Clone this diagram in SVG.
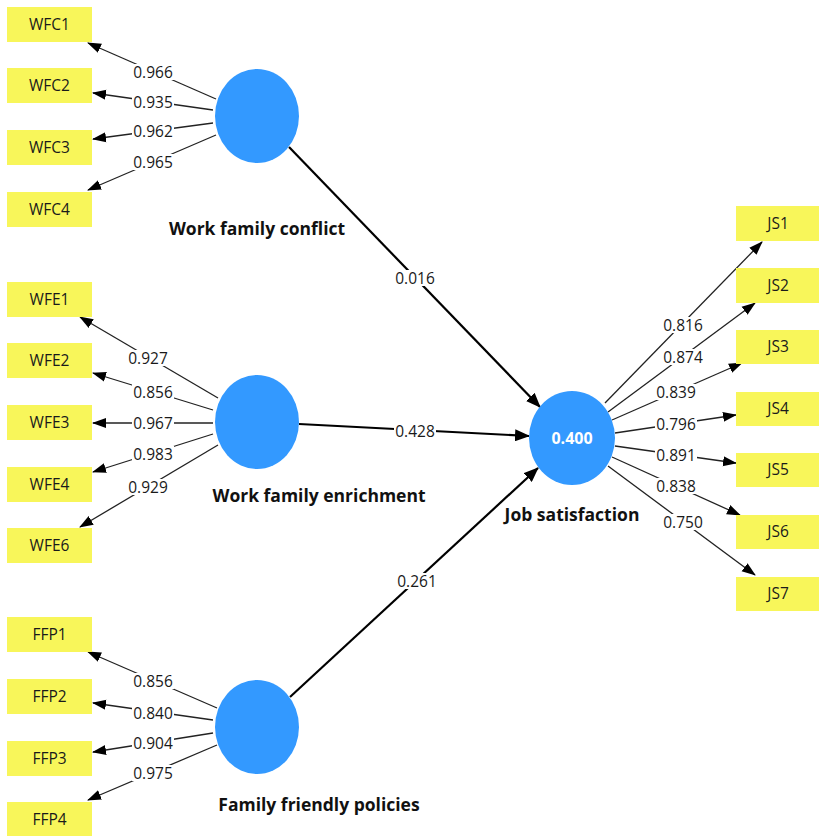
<svg xmlns="http://www.w3.org/2000/svg" width="819" height="836" viewBox="0 0 819 836">
<defs>
<style>
.ind rect{fill:#F8F65A}
.t{font-family:"Open Sans","Liberation Sans",sans-serif;font-size:15.5px;fill:#1a1a1a;text-anchor:middle}
.lv ellipse{fill:#3399FF}
.name{font-family:"Open Sans","Liberation Sans",sans-serif;font-size:17.5px;font-weight:bold;fill:#111;text-anchor:middle}
.r2{font-family:"Open Sans","Liberation Sans",sans-serif;font-size:16px;font-weight:bold;fill:#fff;text-anchor:middle}
.m{stroke:#222;stroke-width:1.3;fill:none;marker-end:url(#ah)}
.s{stroke:#000;stroke-width:2.2;fill:none;marker-end:url(#ahs)}
.bg{fill:#fff}
</style>
<marker id="ah" markerUnits="userSpaceOnUse" markerWidth="14" markerHeight="11" refX="13" refY="5" orient="auto" viewBox="0 0 14 10"><path d="M0,0 L14,5 L0,10 z" fill="#000"/></marker>
<marker id="ahs" markerUnits="userSpaceOnUse" markerWidth="15" markerHeight="12" refX="14" refY="6" orient="auto" viewBox="0 0 15 12"><path d="M0,0 L15,6 L0,12 z" fill="#000"/></marker>
</defs>
<rect width="819" height="836" fill="#fff"/>
<g id="connectors">
<line class="m" x1="216" y1="99" x2="88" y2="43"/>
<line class="m" x1="213" y1="110" x2="93" y2="93"/>
<line class="m" x1="213" y1="123" x2="93" y2="139"/>
<line class="m" x1="216" y1="135" x2="88" y2="190"/>
<line class="m" x1="218" y1="398" x2="80" y2="317"/>
<line class="m" x1="213" y1="410" x2="93" y2="373"/>
<line class="m" x1="213" y1="423" x2="93" y2="423"/>
<line class="m" x1="213" y1="434" x2="93" y2="472"/>
<line class="m" x1="218" y1="445" x2="80" y2="527"/>
<line class="m" x1="217" y1="708" x2="88" y2="652"/>
<line class="m" x1="213" y1="720" x2="93" y2="703"/>
<line class="m" x1="213" y1="733" x2="93" y2="752"/>
<line class="m" x1="217" y1="745" x2="88" y2="800"/>
<line class="m" x1="605" y1="403" x2="762" y2="242"/>
<line class="m" x1="608" y1="412" x2="755" y2="303"/>
<line class="m" x1="612" y1="420" x2="742" y2="363"/>
<line class="m" x1="615" y1="433" x2="736" y2="415"/>
<line class="m" x1="615" y1="446" x2="736" y2="463"/>
<line class="m" x1="612" y1="457" x2="740" y2="515"/>
<line class="m" x1="608" y1="466" x2="755" y2="575"/>
<line class="s" x1="289" y1="147" x2="540" y2="407"/>
<line class="s" x1="299" y1="424" x2="529" y2="436"/>
<line class="s" x1="290" y1="697" x2="538" y2="468"/>
<g>
<rect class="bg" x="132" y="64" width="42" height="16"/><text class="t" x="153" y="77.5">0.966</text>
<rect class="bg" x="132" y="94" width="42" height="16"/><text class="t" x="153" y="107.5">0.935</text>
<rect class="bg" x="132" y="123" width="42" height="16"/><text class="t" x="153" y="136.5">0.962</text>
<rect class="bg" x="132" y="154" width="42" height="16"/><text class="t" x="153" y="167.5">0.965</text>
<rect class="bg" x="127" y="350" width="42" height="16"/><text class="t" x="148" y="363.5">0.927</text>
<rect class="bg" x="132" y="384" width="42" height="16"/><text class="t" x="153" y="397.5">0.856</text>
<rect class="bg" x="132" y="415" width="42" height="16"/><text class="t" x="153" y="428.5">0.967</text>
<rect class="bg" x="132" y="446" width="42" height="16"/><text class="t" x="153" y="459.5">0.983</text>
<rect class="bg" x="127" y="479" width="42" height="16"/><text class="t" x="148" y="492.5">0.929</text>
<rect class="bg" x="132" y="673" width="42" height="16"/><text class="t" x="153" y="686.5">0.856</text>
<rect class="bg" x="132" y="705" width="42" height="16"/><text class="t" x="153" y="718.5">0.840</text>
<rect class="bg" x="132" y="735" width="42" height="16"/><text class="t" x="153" y="748.5">0.904</text>
<rect class="bg" x="132" y="765" width="42" height="16"/><text class="t" x="153" y="778.5">0.975</text>
<rect class="bg" x="662" y="317" width="42" height="16"/><text class="t" x="683" y="330.5">0.816</text>
<rect class="bg" x="662" y="349" width="42" height="16"/><text class="t" x="683" y="362.5">0.874</text>
<rect class="bg" x="655" y="384" width="42" height="16"/><text class="t" x="676" y="397.5">0.839</text>
<rect class="bg" x="655" y="416" width="42" height="16"/><text class="t" x="676" y="429.5">0.796</text>
<rect class="bg" x="655" y="447" width="42" height="16"/><text class="t" x="676" y="460.5">0.891</text>
<rect class="bg" x="655" y="478" width="42" height="16"/><text class="t" x="676" y="491.5">0.838</text>
<rect class="bg" x="662" y="514" width="42" height="16"/><text class="t" x="683" y="527.5">0.750</text>
<rect class="bg" x="394" y="270" width="42" height="16"/><text class="t" x="415" y="283.5">0.016</text>
<rect class="bg" x="394" y="423" width="42" height="16"/><text class="t" x="415" y="436.5">0.428</text>
<rect class="bg" x="396" y="573" width="42" height="16"/><text class="t" x="417" y="586.5">0.261</text>
</g>
</g>
<g id="WFC1" class="ind"><rect x="7" y="7" width="85" height="35"/><text class="t" x="49.5" y="30">WFC1</text></g>
<g id="WFC2" class="ind"><rect x="7" y="68" width="85" height="35"/><text class="t" x="49.5" y="91">WFC2</text></g>
<g id="WFC3" class="ind"><rect x="7" y="130" width="85" height="35"/><text class="t" x="49.5" y="153">WFC3</text></g>
<g id="WFC4" class="ind"><rect x="7" y="192" width="85" height="35"/><text class="t" x="49.5" y="215">WFC4</text></g>
<g id="WFE1" class="ind"><rect x="7" y="282" width="85" height="35"/><text class="t" x="49.5" y="305">WFE1</text></g>
<g id="WFE2" class="ind"><rect x="7" y="343" width="85" height="35"/><text class="t" x="49.5" y="366">WFE2</text></g>
<g id="WFE3" class="ind"><rect x="7" y="405" width="85" height="35"/><text class="t" x="49.5" y="428">WFE3</text></g>
<g id="WFE4" class="ind"><rect x="7" y="467" width="85" height="35"/><text class="t" x="49.5" y="490">WFE4</text></g>
<g id="WFE6" class="ind"><rect x="7" y="528" width="85" height="35"/><text class="t" x="49.5" y="551">WFE6</text></g>
<g id="FFP1" class="ind"><rect x="7" y="617" width="85" height="35"/><text class="t" x="49.5" y="640">FFP1</text></g>
<g id="FFP2" class="ind"><rect x="7" y="679" width="85" height="35"/><text class="t" x="49.5" y="702">FFP2</text></g>
<g id="FFP3" class="ind"><rect x="7" y="741" width="85" height="35"/><text class="t" x="49.5" y="764">FFP3</text></g>
<g id="FFP4" class="ind"><rect x="7" y="802" width="85" height="36"/><text class="t" x="49.5" y="825">FFP4</text></g>
<g id="JS1" class="ind"><rect x="736" y="206" width="85" height="35"/><text class="t" x="778" y="229">JS1</text></g>
<g id="JS2" class="ind"><rect x="736" y="268" width="85" height="35"/><text class="t" x="778" y="291">JS2</text></g>
<g id="JS3" class="ind"><rect x="736" y="330" width="85" height="34"/><text class="t" x="778" y="352">JS3</text></g>
<g id="JS4" class="ind"><rect x="736" y="392" width="85" height="34"/><text class="t" x="778" y="414">JS4</text></g>
<g id="JS5" class="ind"><rect x="736" y="453" width="85" height="34"/><text class="t" x="778" y="475">JS5</text></g>
<g id="JS6" class="ind"><rect x="736" y="515" width="85" height="34"/><text class="t" x="778" y="537">JS6</text></g>
<g id="JS7" class="ind"><rect x="736" y="577" width="85" height="34"/><text class="t" x="778" y="599">JS7</text></g>
<g id="WFC" class="lv"><ellipse cx="257" cy="116" rx="42" ry="47"/><text class="name" x="257" y="235">Work family conflict</text></g>
<g id="WFE" class="lv"><ellipse cx="257" cy="422" rx="42" ry="47"/><text class="name" x="319" y="502">Work family enrichment</text></g>
<g id="FFP" class="lv"><ellipse cx="257" cy="727" rx="42" ry="47"/><text class="name" x="319" y="811">Family friendly policies</text></g>
<g id="JS" class="lv"><ellipse cx="572" cy="438" rx="43" ry="47"/><text class="r2" x="572" y="444">0.400</text><text class="name" x="572" y="521">Job satisfaction</text></g>
</svg>
